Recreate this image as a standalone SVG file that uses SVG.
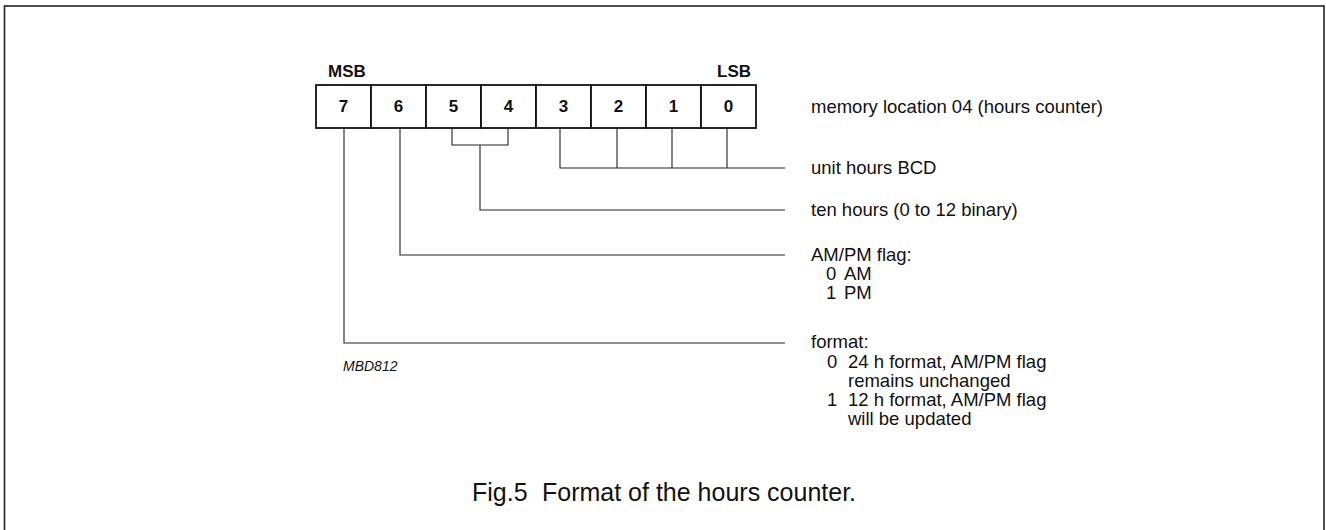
<svg xmlns="http://www.w3.org/2000/svg" width="1326" height="530" viewBox="0 0 1326 530">
<style>
.lbl{font-family:"Liberation Sans",Arial,sans-serif;font-size:18.5px;fill:#111}
.bit{font-family:"Liberation Sans",Arial,sans-serif;font-size:17px;font-weight:bold;fill:#111;text-anchor:middle}
.hdr{font-family:"Liberation Sans",Arial,sans-serif;font-size:17px;font-weight:bold;fill:#111}
.cell{fill:#fff;stroke:#111;stroke-width:1.8}
.ln{fill:none;stroke:#222;stroke-width:1.1}
.code{font-family:"Liberation Sans",Arial,sans-serif;font-size:14px;font-style:italic;fill:#111}
.cap{font-family:"Liberation Sans",Arial,sans-serif;font-size:25px;fill:#111}
</style>
<rect x="4.5" y="6" width="1319.5" height="600" fill="none" stroke="#222" stroke-width="1.6"/>
<g id="register">
<text class="hdr" x="328" y="77">MSB</text>
<text class="hdr" x="751" y="77" text-anchor="end">LSB</text>
<rect class="cell" x="316" y="85" width="55" height="43"/>
<rect class="cell" x="371" y="85" width="55" height="43"/>
<rect class="cell" x="426" y="85" width="55" height="43"/>
<rect class="cell" x="481" y="85" width="55" height="43"/>
<rect class="cell" x="536" y="85" width="55" height="43"/>
<rect class="cell" x="591" y="85" width="55" height="43"/>
<rect class="cell" x="646" y="85" width="55" height="43"/>
<rect class="cell" x="701" y="85" width="55" height="43"/>
<text class="bit" x="343.5" y="112">7</text>
<text class="bit" x="398.5" y="112">6</text>
<text class="bit" x="453.5" y="112">5</text>
<text class="bit" x="508.5" y="112">4</text>
<text class="bit" x="563.5" y="112">3</text>
<text class="bit" x="618.5" y="112">2</text>
<text class="bit" x="673.5" y="112">1</text>
<text class="bit" x="728.5" y="112">0</text>
<text class="lbl" x="811" y="113">memory location 04 (hours counter)</text>
</g>
<g id="connectors">
<path class="ln" d="M560,128 V168 H785 M617,128 V168 M672,128 V168 M727,128 V168"/>
<path class="ln" d="M452,128 V145 H508 V128 M480,145 V210 H785"/>
<path class="ln" d="M400,128 V255 H785"/>
<path class="ln" d="M344,128 V343 H785"/>
</g>
<g id="unit-hours">
<text class="lbl" x="811" y="174">unit hours BCD</text>
</g>
<g id="ten-hours">
<text class="lbl" x="811" y="216">ten hours (0 to 12 binary)</text>
</g>
<g id="ampm">
<text class="lbl" x="811" y="261">AM/PM flag:</text>
<text class="lbl" x="826" y="280">0</text><text class="lbl" x="844" y="280">AM</text>
<text class="lbl" x="826" y="299">1</text><text class="lbl" x="844" y="299">PM</text>
</g>
<g id="format">
<text class="lbl" x="811" y="348">format:</text>
<text class="lbl" x="827" y="368">0</text><text class="lbl" x="848" y="368">24 h format, AM/PM flag</text>
<text class="lbl" x="848" y="387">remains unchanged</text>
<text class="lbl" x="827" y="406">1</text><text class="lbl" x="848" y="406">12 h format, AM/PM flag</text>
<text class="lbl" x="848" y="425">will be updated</text>
</g>
<text class="code" x="343" y="371">MBD812</text>
<text class="cap" y="501"><tspan x="472">Fig.5</tspan><tspan x="542">Format of the hours counter.</tspan></text>
</svg>
